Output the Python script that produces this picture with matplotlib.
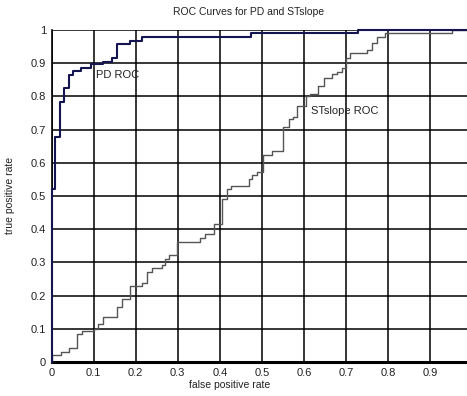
import matplotlib
matplotlib.use("Agg")
import matplotlib.pyplot as plt

# ROC points (jump locations)
pd_fpr = [0, 0, 0.008, 0.020, 0.029, 0.041, 0.050, 0.071, 0.093, 0.123, 0.144,
          0.155, 0.186, 0.214, 0.475, 0.729, 0.99]
pd_tpr = [0, 0.521, 0.677, 0.784, 0.824, 0.864, 0.877, 0.886, 0.899, 0.905, 0.917,
          0.958, 0.968, 0.980, 0.992, 1.0, 1.0]

st_fpr = [0, 0, 0.022, 0.042, 0.061, 0.072, 0.101, 0.111, 0.123, 0.155, 0.167,
          0.186, 0.214, 0.228, 0.238, 0.262, 0.270, 0.280, 0.299, 0.353, 0.364,
          0.386, 0.406, 0.416, 0.426, 0.469, 0.477, 0.489, 0.502, 0.523, 0.551,
          0.563, 0.574, 0.584, 0.605, 0.614, 0.634, 0.647, 0.667, 0.677, 0.689,
          0.699, 0.709, 0.750, 0.762, 0.772, 0.792, 0.951, 0.99]
st_tpr = [0, 0.021, 0.029, 0.041, 0.083, 0.094, 0.100, 0.114, 0.135, 0.165, 0.189,
          0.229, 0.237, 0.271, 0.283, 0.291, 0.310, 0.322, 0.362, 0.374, 0.385,
          0.416, 0.490, 0.520, 0.531, 0.550, 0.563, 0.573, 0.623, 0.635, 0.709,
          0.731, 0.739, 0.771, 0.801, 0.807, 0.832, 0.854, 0.866, 0.874, 0.885,
          0.917, 0.930, 0.940, 0.960, 0.980, 0.992, 1.0, 1.0]

xticks = [0, 0.1, 0.2, 0.3, 0.4, 0.5, 0.6, 0.7, 0.8, 0.9]
xtick_labels = ["0", "0.1", "0.2", "0.3", "0.4", "0.5", "0.6", "0.7", "0.8", "0.9"]
yticks = [0, 0.1, 0.2, 0.3, 0.4, 0.5, 0.6, 0.7, 0.8, 0.9, 1.0]
ytick_labels = ["0", "0.1", "0.2", "0.3", "0.4", "0.5", "0.6", "0.7", "0.8", "0.9", "1"]

plt.rcParams['font.family'] = ['Liberation Sans', 'DejaVu Sans']

fig = plt.figure(figsize=(4.67, 3.96), dpi=100)
ax = fig.add_axes([51.5 / 467, 1 - 362 / 396, 1 - 51.5 / 467, (362 - 30) / 396])

ax.set_xlim(0, (467 - 51.5) / 421.0)
ax.set_ylim(0, 1)
ax.set_xticks(xticks)
ax.set_xticklabels(xtick_labels)
ax.set_yticks(yticks)
ax.set_yticklabels(ytick_labels)
ax.tick_params(length=0, labelsize=8, pad=4, colors='#222222')
ax.grid(True, color='black', linewidth=1.1)
ax.set_axisbelow(True)

for s in ['top', 'right']:
    ax.spines[s].set_visible(False)
ax.spines['bottom'].set_linewidth(2.2)
ax.spines['left'].set_linewidth(1.2)

ax.plot(st_fpr, st_tpr, drawstyle='steps-post', color='#555555', linewidth=1.0,
        clip_on=False, zorder=3)
ax.plot(pd_fpr, pd_tpr, drawstyle='steps-post', color='#141450', linewidth=1.5,
        clip_on=False, zorder=4)

ax.text(0.106, 0.864, "PD ROC", fontsize=8, va='center', ha='left', color='#222222')
ax.text(0.616, 0.756, "STslope ROC", fontsize=8, va='center', ha='left', color='#222222')

fig.text(249 / 467, 1 - 12 / 396, "ROC Curves for PD and STslope", fontsize=7.5,
         ha='center', va='center', color='#222222')
fig.text(230 / 467, 1 - 385 / 396, "false positive rate", fontsize=7.5,
         ha='center', va='center', color='#222222')
fig.text(10 / 467, 1 - 195 / 396, "true positive rate", fontsize=7.5,
         ha='center', va='center', rotation=90, color='#222222')

fig.savefig("out.png", dpi=100)
